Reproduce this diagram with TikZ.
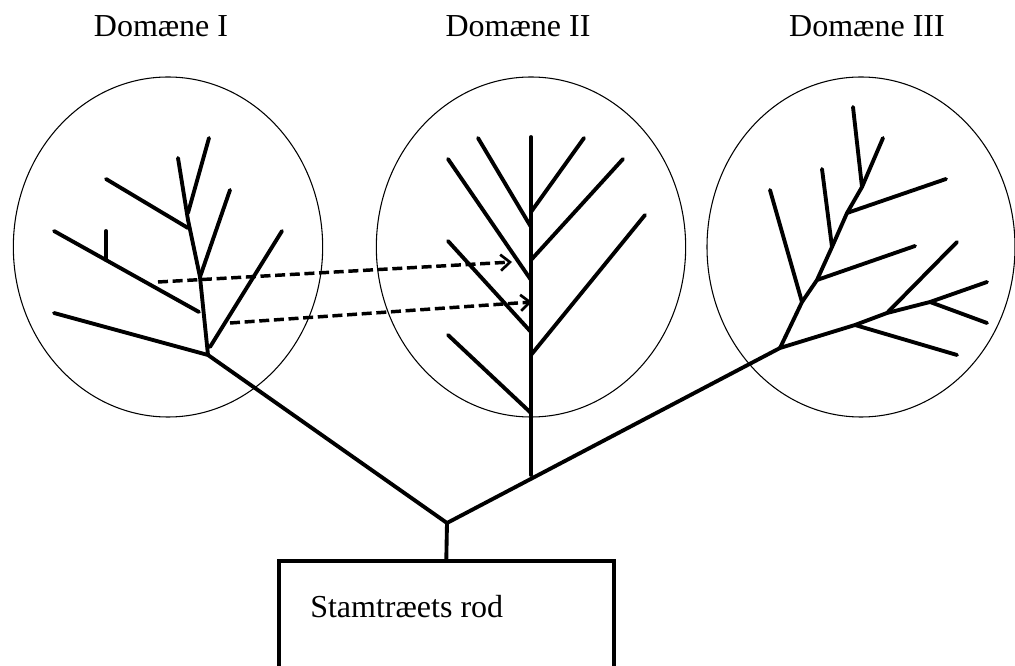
\documentclass[tikz,border=0pt]{standalone}
\usepackage{fontspec}
\setmainfont{Liberation Serif}
\usetikzlibrary{arrows.meta,shapes.geometric,positioning}
\newcommand\bigtext[0]{\fontsize{24}{28}\selectfont}

\begin{document}
\begin{tikzpicture}[x=0.75pt,y=-0.75pt,
    branch/.style={line width=2.9pt,line cap=round,line join=round},
    domcircle/.style={draw,ellipse,line width=0.8pt,inner sep=0pt,
        minimum width=232pt,minimum height=255pt},
    transfer/.style={-{Straight Barb[length=7pt,width=12pt,line width=2pt]},
        line width=2.6pt,dash pattern=on 7.5pt off 3.5pt},
    domtitle/.style={font=\bigtext,anchor=base,inner sep=0pt},
    rodbox/.style={anchor=north west,inner sep=0pt,
        minimum width=250.5pt,minimum height=79.5pt}]
    \useasboundingbox (0,0) rectangle (1015,666);

    \node[domcircle] (dom1) at (168,247) {};
    \node[domcircle] (dom2) at (531,247) {};
    \node[domcircle,minimum width=231pt] (dom3) at (861,247) {};

    \node[domtitle] (t1) at (161,37) {Domæne I};
    \node[domtitle] (t2) at (518,37) {Domæne II};
    \node[domtitle] (t3) at (867,37) {Domæne III};

    \node[rodbox] (rod) at (279,561) {};
    \node[font=\bigtext,anchor=base west,inner sep=0pt] (rodtext) at (310,618) {Stamtræets rod};
    \draw[line width=3pt] (rod.south west) -- (rod.north west) -- (rod.north east) -- (rod.south east);

    \coordinate (root) at (447,523);
    \coordinate (b1) at (208,355);
    \coordinate (b2) at (531,475);
    \coordinate (b3) at (780,348);

    \draw[branch] (b1) -- (root) -- (b3);
    \draw[branch] (root) -- (rod.north);

    \draw[branch] (b1) -- (200,277) -- (188,220) -- (178,158);
    \draw[branch] (188,213) -- (209,138);
    \draw[branch] (188,228) -- (106,179);
    \draw[branch] (200,277) -- (230,190);
    \draw[branch] (54,231) -- (199,312);
    \draw[branch] (106,260) -- (106,231);
    \draw[branch] (54,313) -- (b1);
    \draw[branch] (210,347) -- (282,231);

    \draw[branch] (531,137) -- (b2);
    \draw[branch] (478,138) -- (531,227);
    \draw[branch] (584,138) -- (531,212);
    \draw[branch] (448,159) -- (531,280);
    \draw[branch] (623,159) -- (531,260);
    \draw[branch] (448,241) -- (531,332);
    \draw[branch] (645,215) -- (531,355);
    \draw[branch] (448,335) -- (531,413);

    \draw[branch] (b3) -- (855,325) -- (887,313) -- (930,302) -- (987,282);
    \draw[branch] (855,325) -- (957,355);
    \draw[branch] (887,313) -- (957,242);
    \draw[branch] (930,302) -- (987,323);
    \draw[branch] (b3) -- (802,302) -- (817,280) -- (832,247) -- (847,213) -- (862,187) -- (883,138);
    \draw[branch] (802,302) -- (770,190);
    \draw[branch] (817,280) -- (915,246);
    \draw[branch] (832,247) -- (822,169);
    \draw[branch] (847,213) -- (946,179);
    \draw[branch] (862,187) -- (853,107);

    \coordinate (s1) at (158,282);
    \coordinate (e1) at (512,262);
    \coordinate (s2) at (230,323);
    \coordinate (e2) at (532,302);
    \draw[transfer] (s1) -- (e1);
    \draw[transfer] (s2) -- (e2);
\end{tikzpicture}
\end{document}
